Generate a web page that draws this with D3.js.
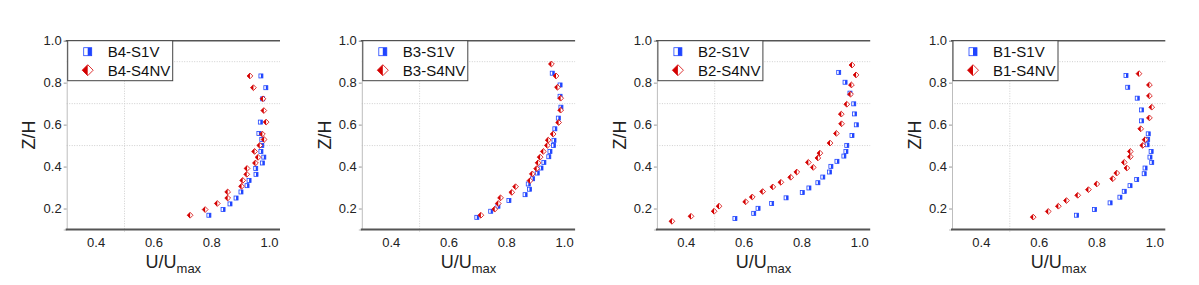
<!DOCTYPE html>
<html><head><meta charset="utf-8">
<script src="https://cdn.jsdelivr.net/npm/d3@7"></script>
<style>
html,body{margin:0;padding:0;background:#fff;}
svg{display:block;font-family:"Liberation Sans",Arial,sans-serif;}
</style></head>
<body><svg id="chart" width="1199" height="285"></svg>
<script>
// ---------- data ----------
const panelNames = ["B4", "B3", "B2", "B1"];
const seriesSuffix = ["S1V", "S4NV"];
const xTicks = [0.4, 0.6, 0.8, 1.0];
const yTicks = [0.2, 0.4, 0.6, 0.8, 1.0];
const gridX = [0.5];
const gridY = [0.5, 0.7, 0.9];

// B4
const B4_S1V_U = [0.972,0.989,0.978,0.970,0.965,0.975,0.975,0.972,0.982,0.977,0.954,0.955,0.931,0.924,0.903,0.886,0.865,0.841,0.792];
const B4_S1V_Z = [0.832,0.776,0.723,0.612,0.558,0.529,0.501,0.472,0.445,0.417,0.391,0.363,0.334,0.309,0.279,0.250,0.222,0.195,0.168];
const B4_S4NV_U = [0.934,0.946,0.979,0.982,0.990,0.977,0.983,0.968,0.950,0.962,0.953,0.924,0.923,0.909,0.905,0.857,0.857,0.821,0.779,0.727];
const B4_S4NV_Z = [0.832,0.776,0.723,0.667,0.612,0.555,0.529,0.501,0.472,0.444,0.417,0.391,0.363,0.334,0.306,0.279,0.250,0.224,0.195,0.168];
// B3
const B3_S1V_U = [0.959,0.986,0.986,0.989,0.980,0.968,0.965,0.963,0.951,0.947,0.930,0.920,0.907,0.891,0.876,0.880,0.865,0.809,0.771,0.746,0.698];
const B3_S1V_Z = [0.845,0.789,0.735,0.683,0.631,0.580,0.525,0.501,0.472,0.447,0.420,0.393,0.369,0.342,0.317,0.292,0.266,0.238,0.211,0.187,0.158];
const B3_S4NV_U = [0.956,0.972,0.977,0.988,0.988,0.981,0.962,0.945,0.942,0.928,0.917,0.910,0.905,0.890,0.882,0.832,0.819,0.780,0.772,0.760,0.712];
const B3_S4NV_Z = [0.889,0.832,0.778,0.726,0.669,0.610,0.555,0.526,0.501,0.472,0.445,0.418,0.390,0.365,0.333,0.304,0.277,0.251,0.224,0.197,0.168];
// B2
const B2_S1V_U = [0.929,0.951,0.968,0.981,0.984,0.990,0.975,0.957,0.954,0.947,0.923,0.902,0.897,0.874,0.857,0.826,0.803,0.747,0.697,0.650,0.635,0.570];
const B2_S1V_Z = [0.849,0.802,0.750,0.699,0.651,0.599,0.548,0.501,0.472,0.450,0.425,0.401,0.374,0.350,0.323,0.298,0.276,0.251,0.224,0.201,0.177,0.152];
const B2_S4NV_U = [0.975,0.989,0.973,0.970,0.957,0.938,0.939,0.921,0.899,0.864,0.857,0.824,0.841,0.784,0.763,0.729,0.701,0.666,0.630,0.607,0.515,0.498,0.418,0.352];
const B2_S4NV_Z = [0.884,0.837,0.789,0.745,0.697,0.650,0.604,0.558,0.512,0.464,0.441,0.420,0.396,0.374,0.349,0.325,0.303,0.281,0.255,0.232,0.211,0.187,0.163,0.139];
// B1
const B1_S1V_U = [0.902,0.908,0.941,0.956,0.956,0.979,0.977,0.975,0.989,0.985,0.991,0.968,0.965,0.939,0.916,0.896,0.881,0.847,0.793,0.731];
const B1_S1V_Z = [0.834,0.778,0.726,0.670,0.618,0.556,0.529,0.504,0.472,0.445,0.420,0.393,0.366,0.338,0.309,0.282,0.254,0.227,0.195,0.168];
const B1_S4NV_U = [0.947,0.983,0.983,0.991,0.983,0.953,0.968,0.960,0.917,0.917,0.896,0.905,0.870,0.856,0.801,0.772,0.735,0.696,0.668,0.633,0.581];
const B1_S4NV_Z = [0.843,0.789,0.737,0.683,0.632,0.580,0.528,0.501,0.472,0.447,0.420,0.393,0.369,0.342,0.317,0.290,0.263,0.238,0.211,0.186,0.159];

const panelData = [
  [[B4_S1V_U, B4_S1V_Z], [B4_S4NV_U, B4_S4NV_Z]],
  [[B3_S1V_U, B3_S1V_Z], [B3_S4NV_U, B3_S4NV_Z]],
  [[B2_S1V_U, B2_S1V_Z], [B2_S4NV_U, B2_S4NV_Z]],
  [[B1_S1V_U, B1_S1V_Z], [B1_S4NV_U, B1_S4NV_Z]]
];

// ---------- style / layout ----------
const BLUE = "#1f44ff", RED = "#d40000";
const AXIS = "#555";
const panelLeft0 = 66.7, panelStep = 295.1, panelW = 213.3;
const plotTop = 40.7, plotBottom = 229.5;

const svg = d3.select("#chart");

function square(g, s, color) {
  g.append("rect").attr("x", -s/2).attr("y", -s/2).attr("width", s).attr("height", s)
    .attr("fill", "#fff").attr("stroke", color).attr("stroke-width", 0.8);
  g.append("rect").attr("x", 0).attr("y", -s/2).attr("width", s/2).attr("height", s)
    .attr("fill", color);
}
function diamond(g, r, color) {
  g.append("path").attr("d", `M0,${-r}L${r},0L0,${r}L${-r},0Z`)
    .attr("fill", "#fff").attr("stroke", color).attr("stroke-width", 0.8);
  g.append("path").attr("d", `M0,${-r}L0,${r}L${-r},0Z`).attr("fill", color);
}

panelNames.forEach((name, i) => {
  const left = panelLeft0 + i * panelStep;
  const x = d3.scaleLinear().domain([0.3, 1.038]).range([left, left + panelW]);
  const y = d3.scaleLinear().domain([0.1, 1.0]).range([plotBottom, plotTop]);
  const g = svg.append("g");

  // grid
  g.selectAll(".gx").data(gridX).enter().append("line")
    .attr("x1", d => x(d)).attr("x2", d => x(d)).attr("y1", plotTop).attr("y2", plotBottom + 3)
    .attr("stroke", "#cfcfcf").attr("stroke-width", 1).attr("stroke-dasharray", "1,1.5");
  g.selectAll(".gy").data(gridY).enter().append("line")
    .attr("x1", left).attr("x2", left + panelW).attr("y1", d => y(d)).attr("y2", d => y(d))
    .attr("stroke", "#cfcfcf").attr("stroke-width", 1).attr("stroke-dasharray", "1,1.5");

  // left axis
  const ya = g.append("g").attr("transform", `translate(${left},0)`)
    .call(d3.axisLeft(y).tickValues(yTicks).tickSize(3).tickPadding(2).tickFormat(d3.format(".1f")));
  ya.select(".domain").attr("stroke", "#bdbdbd");
  ya.selectAll(".tick line").attr("stroke", "#999");
  ya.selectAll("text").attr("font-size", 13).attr("fill", "#222")
    .attr("font-family", "Liberation Sans, Arial, sans-serif");

  // bottom axis labels
  const xa = g.append("g").attr("transform", `translate(0,${plotBottom})`)
    .call(d3.axisBottom(x).tickValues(xTicks).tickSize(0).tickPadding(8).tickFormat(d3.format(".1f")));
  xa.select(".domain").remove();
  xa.selectAll("text").attr("font-size", 13).attr("fill", "#222")
    .attr("font-family", "Liberation Sans, Arial, sans-serif");

  // frame lines
  g.append("line").attr("x1", left - 1).attr("x2", left + panelW).attr("y1", plotTop).attr("y2", plotTop)
    .attr("stroke", AXIS).attr("stroke-width", 1.5);
  g.append("line").attr("x1", left - 1).attr("x2", left + panelW).attr("y1", plotBottom).attr("y2", plotBottom)
    .attr("stroke", AXIS).attr("stroke-width", 2);

  // axis titles
  g.append("text").attr("transform", `translate(${left - 36},${(plotTop + plotBottom) / 2}) rotate(-90)`)
    .attr("text-anchor", "middle").attr("dominant-baseline", "middle")
    .attr("font-size", 18).attr("fill", "#222").text("Z/H");
  const xt = g.append("text").attr("x", left + panelW / 2).attr("y", 268)
    .attr("text-anchor", "middle").attr("font-size", 18).attr("fill", "#222");
  xt.append("tspan").text("U/U");
  xt.append("tspan").attr("font-size", 13).attr("dy", 5).text("max");

  // points
  const [s1, s4] = panelData[i];
  s1[0].forEach((u, k) => {
    square(g.append("g").attr("transform", `translate(${x(u)},${y(s1[1][k])})`), 4, BLUE);
  });
  s4[0].forEach((u, k) => {
    diamond(g.append("g").attr("transform", `translate(${x(u)},${y(s4[1][k])})`), 2.9, RED);
  });

  // legend
  const lg = g.append("g").attr("transform", `translate(${left + 1},${plotTop})`);
  lg.append("rect").attr("x", 0).attr("y", 0).attr("width", 105).attr("height", 40)
    .attr("fill", "#fff").attr("stroke", "#444").attr("stroke-width", 1);
  square(lg.append("g").attr("transform", "translate(20,11)"), 8, BLUE);
  diamond(lg.append("g").attr("transform", "translate(20,29.5)"), 5.5, RED);
  lg.append("text").attr("x", 40).attr("y", 16.5).attr("font-size", 15).attr("fill", "#111")
    .text(name + "-" + seriesSuffix[0]);
  lg.append("text").attr("x", 40).attr("y", 35).attr("font-size", 15).attr("fill", "#111")
    .text(name + "-" + seriesSuffix[1]);
});
</script></body></html>
